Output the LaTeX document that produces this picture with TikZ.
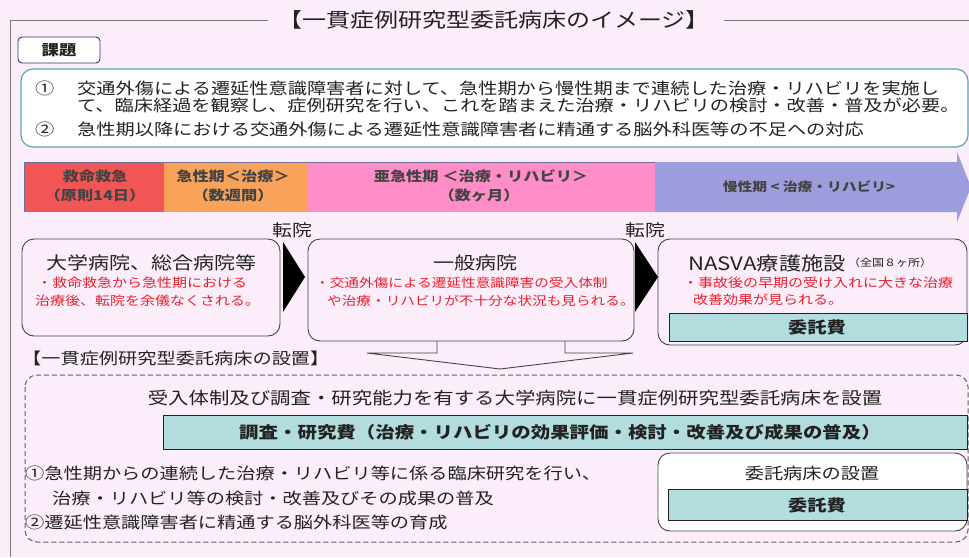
\documentclass[tikz,border=0pt]{standalone}
\usepackage{fontspec}
\setmainfont{Noto Sans CJK JP}[FakeStretch=1.2]
\definecolor{bgc}{HTML}{FBEEFA}
\definecolor{framec}{HTML}{7A7A7A}
\definecolor{chalc}{HTML}{5AA5B5}
\definecolor{tealc}{HTML}{B2DCDE}
\definecolor{ph1}{HTML}{F25555}
\definecolor{ph2}{HTML}{F9A35A}
\definecolor{ph3}{HTML}{FF8DC7}
\definecolor{ph4}{HTML}{9D9DDD}
\definecolor{redt}{HTML}{E8202A}
\definecolor{darkt}{HTML}{222222}
\definecolor{boxc}{HTML}{444444}
\newcommand\myfs[1]{\fontsize{#1}{#1}\selectfont}
\begin{document}
\begin{tikzpicture}[x=1pt,y=-1pt,
  every node/.style={inner sep=0pt,text=darkt},
  body/.style={font=\myfs{16}},
  redl/.style={font=\myfs{12.5},text=redt,anchor=west},
  phase/.style={font=\myfs{13.5}\bfseries,text=darkt!85},
  hbox/.style={draw=boxc,line width=0.9pt,rounded corners=12pt},
  teal/.style={draw=darkt,line width=1pt,fill=tealc},
  frameline/.style={draw=framec,line width=1pt}
]
\useasboundingbox (0,0) rectangle (969,557);
\fill[bgc] (0,0) rectangle (969,557);

% title and frame
\node[font=\myfs{20}] (title) at (494,20) {【一貫症例研究型委託病床のイメージ】};
\coordinate (fl) at (10,557);
\coordinate (fr) at (969,20);
\draw[frameline] (fl) |- ([xshift=-10pt]title.west);
\draw[frameline] ([xshift=14pt]title.east) -- (fr);

% kadai
\node[draw=boxc!80!blue,fill=white,rounded corners=4pt,line width=0.9pt,minimum width=82pt,minimum height=26pt,font=\myfs{14.5}\bfseries] (kadai) at (59,50) {課題};

% challenge box
\draw[draw=chalc,line width=1.2pt,fill=white,rounded corners=12pt] (21,69) rectangle (968,147);
\node[body,anchor=west] (n1) at (35,88) {①};
\node[body,anchor=west] (c1) at (77,88) {交通外傷による遷延性意識障害者に対して、急性期から慢性期まで連続した治療・リハビリを実施し};
\node[body,anchor=west] (c2) at (77,105) {て、臨床経過を観察し、症例研究を行い、これを踏まえた治療・リハビリの検討・改善・普及が必要。};
\node[body,anchor=west] (n2) at (35,129) {②};
\node[body,anchor=west] (c3) at (77,129) {急性期以降における交通外傷による遷延性意識障害者に精通する脳外科医等の不足への対応};

% phase arrow
\fill[ph1] (24,162) rectangle (164,212);
\fill[ph2] (164,162) rectangle (308,212);
\fill[ph3] (308,162) rectangle (655,212);
\fill[ph4] (655,162) -- (957,162) -- (957,152) -- (971,187) -- (957,222) -- (957,212) -- (655,212) -- cycle;
\draw[draw=ph4!70!black,line width=0.6pt] (24,212) -- (24,162) -- (655,162);
\node[phase] (p1a) at (95,176) {救命救急};
\node[phase] (p1b) at (95,195) {（原則14日）};
\node[phase] (p2a) at (233,176) {急性期＜治療＞};
\node[phase] (p2b) at (233,195) {（数週間）};
\node[phase] (p3a) at (481,176) {亜急性期 ＜治療・リハビリ＞};
\node[phase] (p3b) at (479,195) {（数ヶ月）};
\node[phase,font=\myfs{12.3}\bfseries] (p4) at (809,187) {慢性期 < 治療・リハビリ>};

% transfer labels
\node[font=\myfs{16.5}] (t1) at (292,230) {転院};
\node[font=\myfs{16.5}] (t2) at (645,230) {転院};

% hospital boxes
\draw[hbox] (22,239) rectangle (280,336);
\node[font=\myfs{17.5}] (h1) at (151,263) {大学病院、総合病院等};
\node[redl] (h1a) at (37,283) {・救命救急から急性期における};
\node[redl] (h1b) at (35,301) {治療後、転院を余儀なくされる。};

\draw[hbox] (308,239) rectangle (634,341);
\node[font=\myfs{17.5}] (h2) at (475,263) {一般病院};
\node[redl,font=\myfs{12.2}] (h2a) at (315,283) {・交通外傷による遷延性意識障害の受入体制};
\node[redl,font=\myfs{12.2}] (h2b) at (327,301) {や治療・リハビリが不十分な状況も見られる。};

\draw[hbox] (658,239) rectangle (967,345);
\node[font=\myfs{18.5},anchor=west] (h3) at (688,263) {NASVA療護施設};
\node[font=\myfs{10},anchor=west] (h3s) at ([xshift=2pt]h3.east) {（全国８ヶ所）};
\node[redl] (h3a) at (683,283) {・事故後の早期の受け入れに大きな治療};
\node[redl] (h3b) at (693,300) {改善効果が見られる。};
\draw[teal] (669,313) rectangle (967,341);
\node[font=\myfs{16}\bfseries] (h3f) at (817,327) {委託費};

% transfer triangles
\fill[black] (283,242) -- (305,277) -- (283,312) -- cycle;
\fill[black] (635,242) -- (658,277) -- (635,312) -- cycle;

% callout arrow
\draw[draw=boxc,line width=0.9pt,line join=miter] (437,341) -- (437,353) -- (367,353) -- (500,369) -- (633,353) -- (565,353) -- (565,341);

% setup section
\node[font=\myfs{16},anchor=west] (sec) at (22,358) {【一貫症例研究型委託病床の設置】};
\draw[draw=framec!80!black,line width=1pt,dash pattern=on 5pt off 3pt,rounded corners=12pt] (25,375) rectangle (968,542);
\node[font=\myfs{17}] (r1) at (515,398) {受入体制及び調査・研究能力を有する大学病院に一貫症例研究型委託病床を設置};
\draw[teal] (163,415) rectangle (967,449);
\node[font=\myfs{16.2}\bfseries] (r2) at (560,432) {調査・研究費（治療・リハビリの効果評価・検討・改善及び成果の普及）};
\node[font=\myfs{16},anchor=west] (b1) at (25,473) {①急性期からの連続した治療・リハビリ等に係る臨床研究を行い、};
\node[font=\myfs{16},anchor=west] (b2) at (52,498) {治療・リハビリ等の検討・改善及びその成果の普及};
\node[font=\myfs{16},anchor=west] (b3) at (25,522) {②遷延性意識障害者に精通する脳外科医等の育成};

\draw[hbox,fill=white] (658,453) rectangle (967,531);
\node[font=\myfs{16}] (w1) at (812,473) {委託病床の設置};
\draw[teal] (668,489) rectangle (967,520);
\node[font=\myfs{16}\bfseries] (w2) at (817,505) {委託費};
\end{tikzpicture}
\end{document}
